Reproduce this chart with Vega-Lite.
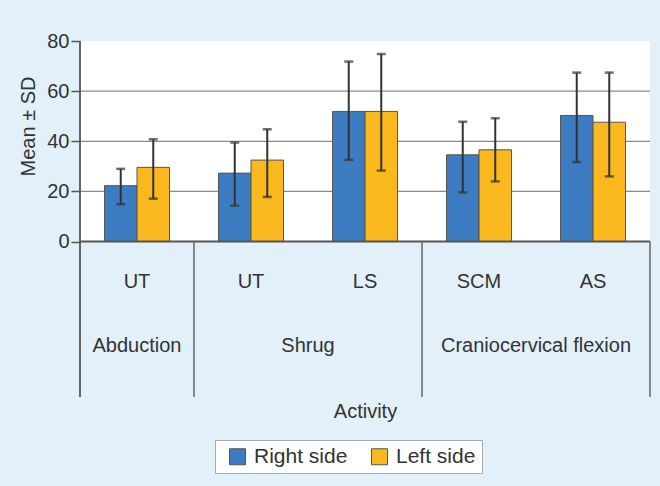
{
  "$schema": "https://vega.github.io/schema/vega-lite/v6.json",
  "autosize": "none",
  "width": 570,
  "height": 356,
  "padding": {"left": 80, "top": 41, "right": 10, "bottom": 89},
  "background": "#e2f0fa",
  "config": {
    "font": "Liberation Sans",
    "view": {"stroke": null},
    "axis": {"labelFont": "Liberation Sans", "titleFont": "Liberation Sans"},
    "legend": {"labelFont": "Liberation Sans"}
  },
  "datasets": {
    "bars": [
      {"key": "Abduction UT", "side": "Right side", "mean": 22.3, "lo": 14.9, "hi": 29.0},
      {"key": "Abduction UT", "side": "Left side", "mean": 29.6, "lo": 17.1, "hi": 40.8},
      {"key": "Shrug UT", "side": "Right side", "mean": 27.3, "lo": 14.3, "hi": 39.5},
      {"key": "Shrug UT", "side": "Left side", "mean": 32.5, "lo": 17.8, "hi": 44.8},
      {"key": "Shrug LS", "side": "Right side", "mean": 51.9, "lo": 32.6, "hi": 71.8},
      {"key": "Shrug LS", "side": "Left side", "mean": 51.9, "lo": 28.3, "hi": 74.8},
      {"key": "CCF SCM", "side": "Right side", "mean": 34.6, "lo": 19.6, "hi": 47.8},
      {"key": "CCF SCM", "side": "Left side", "mean": 36.6, "lo": 24.0, "hi": 49.2},
      {"key": "CCF AS", "side": "Right side", "mean": 50.3, "lo": 31.7, "hi": 67.4},
      {"key": "CCF AS", "side": "Left side", "mean": 47.6, "lo": 26.0, "hi": 67.4}
    ],
    "muscles": [
      {"key": "Abduction UT", "muscle": "UT"},
      {"key": "Shrug UT", "muscle": "UT"},
      {"key": "Shrug LS", "muscle": "LS"},
      {"key": "CCF SCM", "muscle": "SCM"},
      {"key": "CCF AS", "muscle": "AS"}
    ],
    "groupsA": [{"key": "Abduction UT", "activity": "Abduction"}],
    "groupsB": [
      {"key": "Shrug LS", "activity": "Shrug"},
      {"key": "CCF AS", "activity": "Craniocervical flexion"}
    ],
    "sepsLeft": [
      {"key": "Shrug UT", "lo": -62, "hi": 0},
      {"key": "CCF SCM", "lo": -62, "hi": 0}
    ],
    "sepsAxis": [{"key": "Abduction UT", "lo": -62, "hi": 80}],
    "sepsRight": [{"key": "CCF AS", "lo": -62, "hi": 0}],
    "grid": [{"v": 20}, {"v": 40}, {"v": 60}],
    "white": [{"lo": 0, "hi": 80}],
    "base": [{"v": 0}]
  },
  "encoding": {
    "x": {
      "field": "key",
      "type": "nominal",
      "sort": ["Abduction UT", "Shrug UT", "Shrug LS", "CCF SCM", "CCF AS"],
      "scale": {"domain": ["Abduction UT", "Shrug UT", "Shrug LS", "CCF SCM", "CCF AS"], "paddingInner": 0, "paddingOuter": 0},
      "axis": {"labels": false, "ticks": false, "domain": false, "title": "Activity", "titleFontSize": 20, "titleFontWeight": "normal", "titleColor": "#333333", "titlePadding": 4}
    }
  },
  "layer": [
    {
      "data": {"name": "white"},
      "mark": {"type": "rect", "color": "white"},
      "encoding": {
        "x": null,
        "y": {"field": "lo", "type": "quantitative", "scale": {"domain": [-62, 80], "nice": false, "zero": false},
          "axis": {"values": [0, 20, 40, 60, 80], "domain": false, "grid": false, "tickSize": 9, "tickColor": "#555555", "tickWidth": 1.5, "labelFontSize": 20, "labelColor": "#333333", "labelPadding": 2, "title": "Mean ± SD", "titleFontSize": 20, "titleFontWeight": "normal", "titleColor": "#333333", "titlePadding": 8, "titleY": 85}},
        "y2": {"field": "hi"}
      }
    },
    {
      "data": {"name": "grid"},
      "mark": {"type": "rule", "color": "#8a8a8a", "strokeWidth": 1.3},
      "encoding": {"x": null, "y": {"field": "v", "type": "quantitative"}}
    },
    {
      "data": {"name": "bars"},
      "mark": {"type": "bar", "stroke": "#555555", "strokeWidth": 1},
      "encoding": {
        "xOffset": {"field": "side", "type": "nominal", "sort": ["Right side", "Left side"], "scale": {"paddingInner": 0, "paddingOuter": 0.754}},
        "y": {"field": "mean", "type": "quantitative"},
        "color": {"field": "side", "type": "nominal", "sort": ["Right side", "Left side"],
          "scale": {"domain": ["Right side", "Left side"], "range": ["#3d7cc0", "#f9b81e"]},
          "legend": {"title": null, "orient": "none", "legendX": 135, "legendY": 399, "direction": "horizontal",
            "fillColor": "white", "strokeColor": "#a9a9a9", "padding": 6, "symbolType": "square", "symbolSize": 256,
            "symbolOffset": 6, "labelOffset": 6, "columnPadding": 15, "labelFontSize": 21, "labelColor": "#333333",
            "symbolStrokeColor": "#555555", "symbolStrokeWidth": 1}}
      }
    },
    {
      "data": {"name": "bars"},
      "mark": {"type": "rule", "color": "#333333", "strokeWidth": 2},
      "encoding": {
        "xOffset": {"field": "side", "type": "nominal", "sort": ["Right side", "Left side"]},
        "y": {"field": "lo", "type": "quantitative"},
        "y2": {"field": "hi"}
      }
    },
    {
      "data": {"name": "bars"},
      "mark": {"type": "tick", "color": "#333333", "thickness": 2.5, "size": 9},
      "encoding": {
        "xOffset": {"field": "side", "type": "nominal", "sort": ["Right side", "Left side"]},
        "y": {"field": "lo", "type": "quantitative"}
      }
    },
    {
      "data": {"name": "bars"},
      "mark": {"type": "tick", "color": "#333333", "thickness": 2.5, "size": 9},
      "encoding": {
        "xOffset": {"field": "side", "type": "nominal", "sort": ["Right side", "Left side"]},
        "y": {"field": "hi", "type": "quantitative"}
      }
    },
    {
      "data": {"name": "base"},
      "mark": {"type": "rule", "color": "#555555", "strokeWidth": 2},
      "encoding": {"x": null, "y": {"field": "v", "type": "quantitative"}}
    },
    {
      "data": {"name": "sepsAxis"},
      "mark": {"type": "rule", "color": "#555555", "strokeWidth": 1.8},
      "encoding": {
        "x": {"field": "key", "type": "nominal", "bandPosition": 0},
        "y": {"field": "lo", "type": "quantitative"},
        "y2": {"field": "hi"}
      }
    },
    {
      "data": {"name": "sepsLeft"},
      "mark": {"type": "rule", "color": "#666666", "strokeWidth": 1.5},
      "encoding": {
        "x": {"field": "key", "type": "nominal", "bandPosition": 0},
        "y": {"field": "lo", "type": "quantitative"},
        "y2": {"field": "hi"}
      }
    },
    {
      "data": {"name": "sepsRight"},
      "mark": {"type": "rule", "color": "#666666", "strokeWidth": 1.5},
      "encoding": {
        "x": {"field": "key", "type": "nominal", "bandPosition": 1},
        "y": {"field": "lo", "type": "quantitative"},
        "y2": {"field": "hi"}
      }
    },
    {
      "data": {"name": "muscles"},
      "mark": {"type": "text", "fontSize": 20, "color": "#333333", "baseline": "middle", "align": "center"},
      "encoding": {
        "y": {"datum": -16},
        "text": {"field": "muscle"}
      }
    },
    {
      "data": {"name": "groupsA"},
      "mark": {"type": "text", "fontSize": 20, "color": "#333333", "baseline": "middle", "align": "center"},
      "encoding": {
        "y": {"datum": -41.5},
        "text": {"field": "activity"}
      }
    },
    {
      "data": {"name": "groupsB"},
      "mark": {"type": "text", "fontSize": 20, "color": "#333333", "baseline": "middle", "align": "center"},
      "encoding": {
        "x": {"field": "key", "type": "nominal", "bandPosition": 0},
        "y": {"datum": -41.5},
        "text": {"field": "activity"}
      }
    }
  ]
}
